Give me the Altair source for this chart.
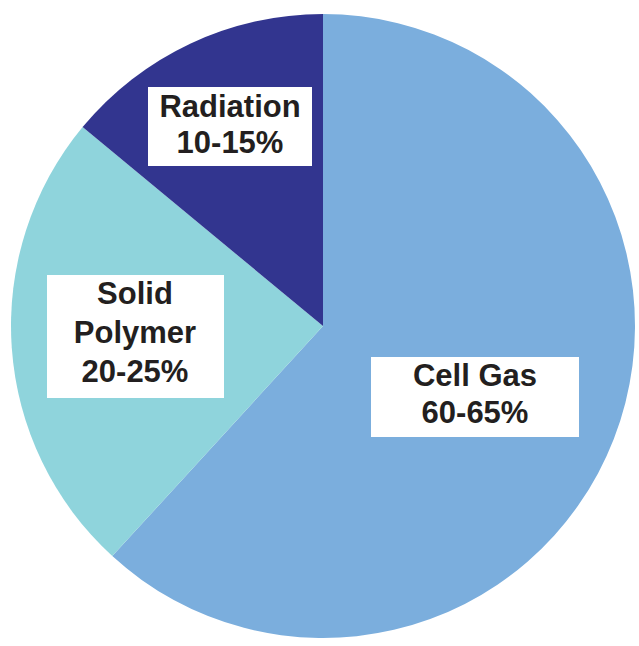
import altair as alt
import pandas as pd

# Data
categories = ["Cell Gas", "Solid Polymer", "Radiation"]
shares = [61.8, 24.2, 14.0]
ranges = ["60-65%", "20-25%", "10-15%"]
label_lines = [["Cell Gas", "60-65%"], ["Solid", "Polymer", "20-25%"], ["Radiation", "10-15%"]]
colors = ["#7BAEDD", "#8FD4DC", "#32358F"]

df = pd.DataFrame({
    "category": categories,
    "share": shares,
    "range": ranges,
    "label": label_lines,
    "order": list(range(len(categories))),
})

CX, CY, R = 323, 326, 312

pie = alt.Chart(df).mark_arc(outerRadius=R, stroke=None).encode(
    theta=alt.Theta("share:Q", stack=True),
    order=alt.Order("order:Q"),
    color=alt.Color("category:N", scale=alt.Scale(domain=categories, range=colors), legend=None),
    x=alt.value(CX),
    y=alt.value(CY),
)

# label boxes: (category, x, x2, y, y2, text x, first baseline y, line height)
boxes = [
    ("Cell Gas", 371, 579, 357, 437, 475, 386, 37),
    ("Solid Polymer", 47, 224, 275, 398, 135, 304, 39),
    ("Radiation", 148, 312, 87, 166, 230, 116.5, 36),
]

layers = [pie]
for cat, x1, x2, y1, y2, tx, ty, lh in boxes:
    base = alt.Chart(df).transform_filter(alt.datum.category == cat)
    rect = base.mark_rect(color="white").encode(
        x=alt.value(x1), x2=alt.value(x2), y=alt.value(y1), y2=alt.value(y2)
    )
    txt = base.mark_text(
        font="Liberation Sans", fontWeight="bold", fontSize=31, color="#231F20",
        align="center", baseline="alphabetic", lineHeight=lh,
    ).encode(text="label", x=alt.value(tx), y=alt.value(ty))
    layers += [rect, txt]

chart = alt.layer(*layers).properties(
    width=639, height=646, padding=0, background="white"
).configure_view(stroke=None)

chart.save("out.html", embed_options={"renderer": "svg", "actions": False})
